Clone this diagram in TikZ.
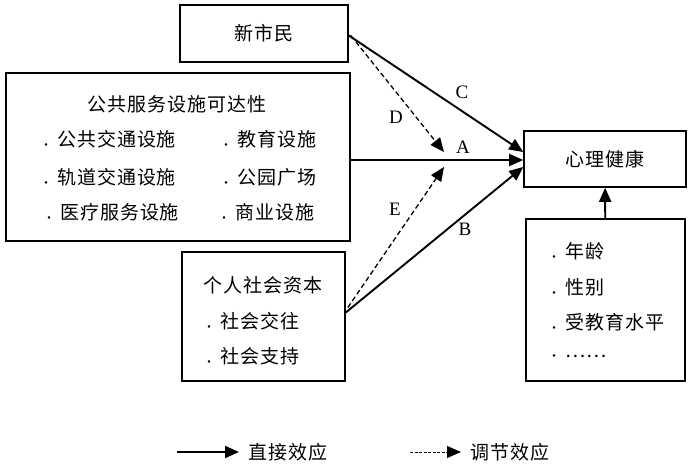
\documentclass[tikz,border=0pt]{standalone}
\usepackage{fontspec}
\setmainfont{Liberation Serif}
\newfontfamily\cjk{Noto Sans CJK SC}[LetterSpace=5]
\usetikzlibrary{arrows.meta}

\newcommand{\dotitem}{\raisebox{-3pt}{\fontsize{12}{12}\selectfont\textbullet}\hspace{5pt}}

\tikzset{
  box/.style={draw, line width=1.6pt, inner sep=0pt},
  txt/.style={font=\cjk\fontsize{19}{21}\selectfont, inner sep=0pt},
  item/.style={txt, anchor=west},
  lbl/.style={font=\fontsize{19}{21}\selectfont, inner sep=0pt},
  eff/.style={line width=1.9pt, -{Triangle[length=14pt,width=12pt]}},
  mod/.style={line width=1.3pt, dash pattern=on 5pt off 3pt, -{Triangle[length=14pt,width=12pt]}},
}

\begin{document}
\begin{tikzpicture}[x=1pt, y=1pt]
        \useasboundingbox (0,0) rectangle (700,465);

        % Boxes
        \node[box, minimum width=168pt, minimum height=57pt, txt] (xsm) at (264,431.5) {新市民};
        \node[box, minimum width=344pt, minimum height=168pt] (ggfw) at (178,308) {};
        \node[box, minimum width=163pt, minimum height=129pt] (grsh) at (263.5,148.5) {};
        \node[box, minimum width=162pt, minimum height=56pt, txt] (xljk) at (605,306) {心理健康};
        \node[box, minimum width=159pt, minimum height=162pt] (kzbl) at (605.5,165) {};

        % Public service accessibility
        \node[txt] (ggfwT) at (177,361) {公共服务设施可达性};
        \node[item] (gjjt) at (40,325) {\dotitem 公共交通设施};
        \node[item] (jyss) at (220,325) {\dotitem 教育设施};
        \node[item] (gdjt) at (40,287) {\dotitem 轨道交通设施};
        \node[item] (gygc) at (220,287) {\dotitem 公园广场};
        \node[item] (ylfw) at (43,252) {\dotitem 医疗服务设施};
        \node[item] (syss) at (218,252) {\dotitem 商业设施};

        % Personal social capital
        \node[txt] (grshT) at (263,180) {个人社会资本};
        \node[item] (shjw) at (203,143) {\dotitem 社会交往};
        \node[item] (shzc) at (203,108) {\dotitem 社会支持};

        % Controls
        \node[item] (nl) at (548,213) {\dotitem 年龄};
        \node[item] (xb) at (548,177) {\dotitem 性别};
        \node[item] (jy) at (548,142) {\dotitem 受教育水平};
        \node[item] (qt) at (548,107) {\dotitem ……};

        % Paths
        \coordinate (dtip) at (444,313);
        \coordinate (etip) at (444,298);
        \draw[eff] ([yshift=-2pt]xsm.east) -- ([yshift=7pt]xljk.west);
        \draw[eff] ([yshift=-3pt]ggfw.east) -- ([yshift=-1pt]xljk.west);
        \draw[eff] ([yshift=4pt]grsh.east) -- ([yshift=-8pt]xljk.west);
        \draw[mod] ([xshift=2pt,yshift=-2pt]xsm.east) -- (dtip);
        \draw[mod] ([xshift=2pt,yshift=9pt]grsh.east) -- (etip);
        \draw[eff] (kzbl) -- (xljk);

        % Labels
        \node[lbl] (lC) at (462,373) {C};
        \node[lbl] (lD) at (396,348) {D};
        \node[lbl] (lA) at (463,318) {A};
        \node[lbl] (lE) at (395,256) {E};
        \node[lbl] (lB) at (465,236) {B};

        % Legend
        \coordinate (lgzs) at (177,13);
        \coordinate (lgts) at (410,13);
        \node[item] (lgzj) at (248,13) {直接效应};
        \node[item] (lgtj) at (470,13) {调节效应};
        \draw[eff] (lgzs) -- ([xshift=-9pt]lgzj.west);
        \draw[mod, line width=1pt, dash pattern=on 3pt off 1.5pt] (lgts) -- ([xshift=-9pt]lgtj.west);
    \end{tikzpicture}
\end{document}
